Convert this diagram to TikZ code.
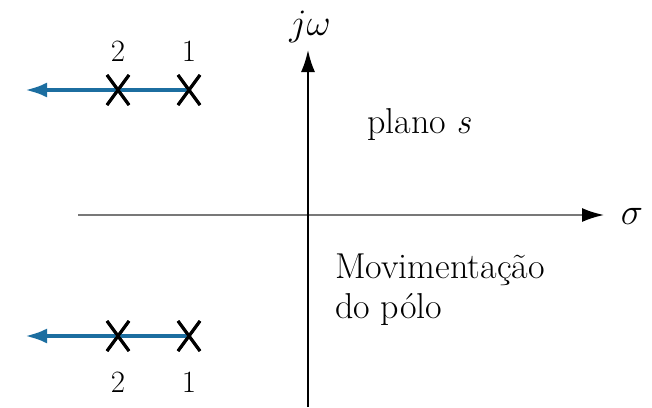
\documentclass[tikz,border=0pt]{standalone}
\usepackage{graphicx}
\usetikzlibrary{arrows.meta,shapes.misc}
\definecolor{poleblue}{RGB}{28,110,160}
\definecolor{axisgray}{RGB}{120,120,120}
\tikzset{
  pole/.style={cross out,draw=black,line width=3pt,minimum width=19pt,minimum height=27pt,inner sep=0pt},
  moveline/.style={draw=poleblue,line width=4pt,-{Latex[length=22pt,width=15pt]}},
  axis/.style={line width=2pt,-{Latex[black,length=22pt,width=14pt]}},
  lbl/.style={font=\fontsize{31}{36}\selectfont,inner sep=0pt},
  txt/.style={font=\fontsize{36}{40}\selectfont,inner sep=0pt},
  mathtxt/.style={font=\fontsize{24}{28}\selectfont,inner sep=0pt}
}
\begin{document}
\begin{tikzpicture}[x=1pt,y=-1pt]
\useasboundingbox[fill=white] (0,0) rectangle (652,407);
% axes
\coordinate (xs) at (78,215);
\coordinate (xe) at (604,215);
\coordinate (ys) at (308,407);
\coordinate (ye) at (308,50);
\draw[axis,draw=axisgray] (xs) -- (xe);
\draw[axis,draw=black] (ys) -- (ye);
\node[mathtxt,anchor=base] (jw) at (310,35) {\scalebox{1.5}{$j\omega$}};
\node[mathtxt,anchor=base] (sig) at (632,224) {\scalebox{1.5}{$\sigma$}};
% upper poles
\coordinate (tipU) at (25,90);
\node[pole] (u2) at (118,90) {};
\node[pole] (u1) at (189,90) {};
\draw[moveline] (u1.center) -- (tipU);
\node[pole] at (u2) {};
\node[pole] at (u1) {};
\node[lbl,anchor=base] (lu2) at (118,61) {2};
\node[lbl,anchor=base] (lu1) at (189,61) {1};
% lower poles
\coordinate (tipL) at (25,336);
\node[pole] (l2) at (118,336) {};
\node[pole] (l1) at (189,336) {};
\draw[moveline] (l1.center) -- (tipL);
\node[pole] at (l2) {};
\node[pole] at (l1) {};
\node[lbl,anchor=base] (ll2) at (118,392) {2};
\node[lbl,anchor=base] (ll1) at (189,392) {1};
% texts
\node[txt,anchor=base west] (plano) at (367,133) {plano \textit{s}};
\node[txt,anchor=base west] (mov) at (335,278) {Movimentação};
\node[txt,anchor=base west] (dopolo) at (335,318) {do pólo};
\end{tikzpicture}
\end{document}
